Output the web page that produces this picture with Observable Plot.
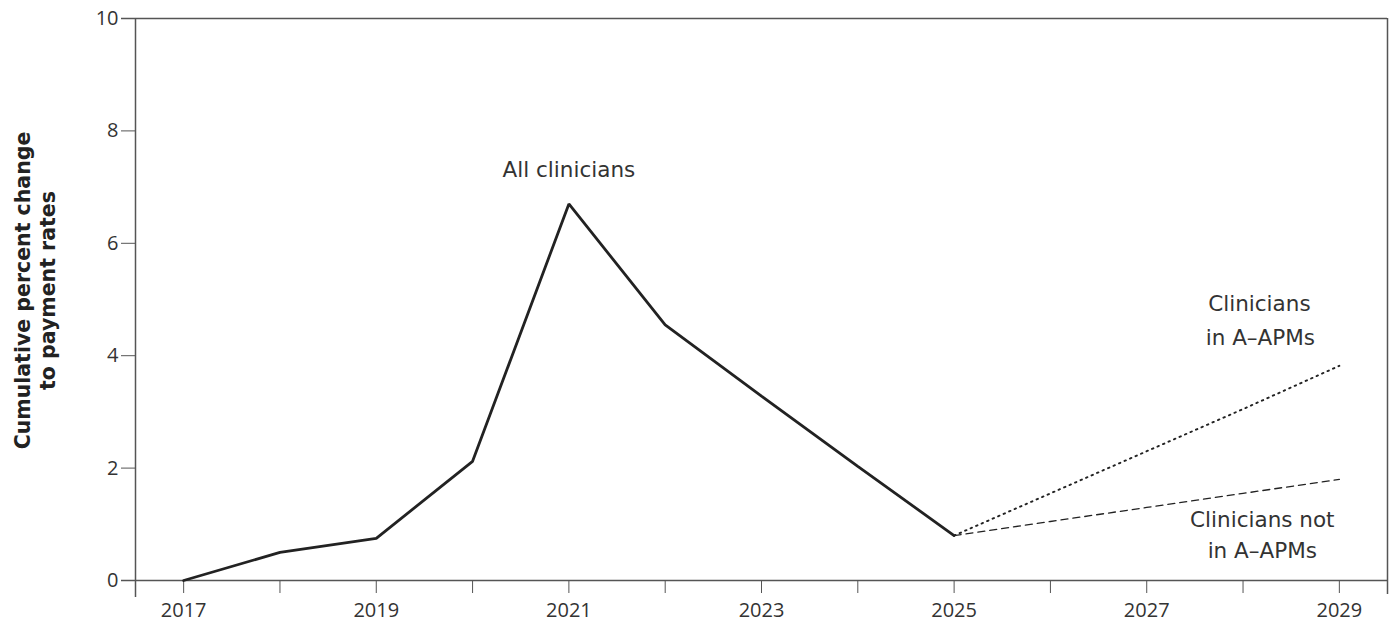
<!DOCTYPE html>
<html>
<head>
<meta charset="utf-8">
<script src="https://cdn.jsdelivr.net/npm/d3@7"></script>
<script src="https://cdn.jsdelivr.net/npm/@observablehq/plot@0.6"></script>
<style>
  html, body { margin: 0; padding: 0; background: #fff; }
  #chart svg { display: block; }
</style>
</head>
<body>
<div id="chart"></div>
<script>
// Data
const allYears = [2017, 2018, 2019, 2020, 2021, 2022, 2023, 2024, 2025];
const allValues = [0, 0.5, 0.75, 2.12, 6.7, 4.55, 3.28, 2.03, 0.8];

const projYears = [2025, 2026, 2027, 2028, 2029];
const aapmValues = [0.8, 1.55, 2.3, 3.05, 3.82];
const nonAapmValues = [0.8, 1.05, 1.3, 1.55, 1.8];

const xTicks = [2017, 2018, 2019, 2020, 2021, 2022, 2023, 2024, 2025, 2026, 2027, 2028, 2029];
const yTicks = [0, 2, 4, 6, 8, 10];

const labelX = [2021, 2028.17, 2028.18, 2028.2, 2028.2];
const labelY = [7.3, 4.91, 4.32, 1.08, 0.53];
const labelText = ["All clinicians", "Clinicians", "in A\u2013APMs", "Clinicians not", "in A\u2013APMs"];
const yTitle = "Cumulative percent change\nto payment rates";

const allData = allYears.map((x, i) => ({x, y: allValues[i]}));
const aapmData = projYears.map((x, i) => ({x, y: aapmValues[i]}));
const nonData = projYears.map((x, i) => ({x, y: nonAapmValues[i]}));
const labels = labelText.map((text, i) => ({x: labelX[i], y: labelY[i], text}));

const tickFont = "'Open Sans', Lato, sans-serif";
const labelFont = "'DejaVu Sans', 'Open Sans', sans-serif";
const fmt = d => (d % 2 === 1 ? String(d) : "");

const chart = Plot.plot({
  width: 1392,
  height: 628,
  marginLeft: 135,
  marginRight: 5,
  marginTop: 18,
  marginBottom: 48,
  style: {fontFamily: tickFont, fontSize: "20px", color: "#333", background: "#fff"},
  x: {domain: [2016.5, 2029.5], label: null},
  y: {domain: [0, 10], label: null},
  marks: [
    Plot.ruleY([0, 10], {stroke: "#555", strokeWidth: 1.5, insetLeft: -14}),
    Plot.ruleX([2016.5], {y1: 10, y2: 0, stroke: "#555", strokeWidth: 1.5, insetBottom: -17}),
    Plot.ruleX([2029.5], {y1: 10, y2: 0, stroke: "#555", strokeWidth: 1.5, insetBottom: -14}),
    Plot.axisX({ticks: xTicks, tickSize: 13, tickPadding: 9, stroke: "#555",
      tickFormat: fmt, fontSize: 20, fill: "#333", label: null}),
    Plot.axisY({ticks: yTicks, tickSize: 14, tickPadding: 3, stroke: "#555", fontSize: 20, fill: "#333", label: null}),
    Plot.line(aapmData, {x: "x", y: "y", stroke: "#222", strokeWidth: 1.9, strokeDasharray: "1.5,4.5", strokeLinecap: "round"}),
    Plot.line(nonData, {x: "x", y: "y", stroke: "#222", strokeWidth: 1.3, strokeDasharray: "7,5"}),
    Plot.line(allData, {x: "x", y: "y", stroke: "#222", strokeWidth: 2.8, strokeLinejoin: "miter"}),
    Plot.text(labels, {x: "x", y: "y", text: "text", fill: "#333", fontSize: 21.5, fontFamily: labelFont}),
    Plot.text([yTitle], {frameAnchor: "left", textAnchor: "middle", rotate: -90, dx: -101, dy: -9,
      fontWeight: "bold", fontFamily: labelFont, fontSize: 20.5, fill: "#222", lineHeight: 1.2, text: d => d})
  ]
});
document.getElementById("chart").appendChild(chart);
</script>
</body>
</html>
